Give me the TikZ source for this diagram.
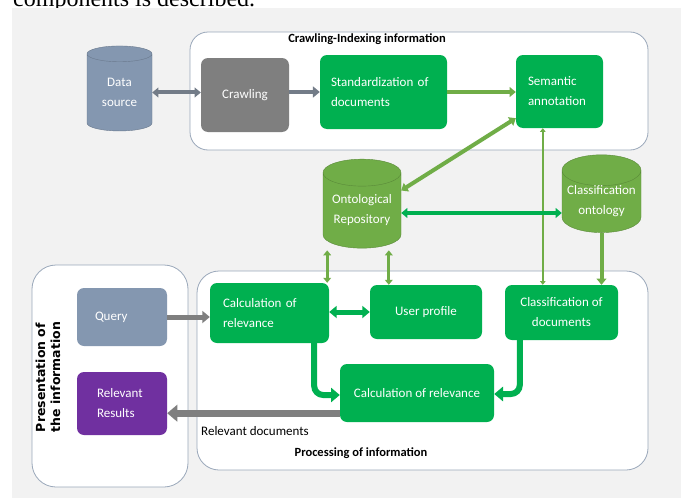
\documentclass[tikz,border=0pt]{standalone}
\usepackage{fontspec}
\setmainfont{Carlito}
\newfontfamily\sidefont{DejaVu Sans}
\newfontfamily\introfont{Liberation Serif}
\usetikzlibrary{arrows.meta,positioning,shapes.geometric}
\definecolor{bggray}{HTML}{F2F2F2}
\definecolor{framegray}{HTML}{9AA8BA}
\definecolor{nodegreen}{HTML}{00B050}
\definecolor{olive}{HTML}{70AD47}
\definecolor{slate}{HTML}{8497B0}
\definecolor{crawlgray}{HTML}{7F7F7F}
\definecolor{linkgray}{HTML}{737C88}
\definecolor{purple}{HTML}{7030A0}
\tikzset{>={Triangle[length=1pt 1.3,width=1pt 2.2]}}
\tikzset{state/.style={rounded corners=7pt,text=white,font=\fontsize{13}{20}\selectfont,inner ysep=2pt}}
\tikzset{green state/.style={state,fill=nodegreen}}
\tikzset{store/.style={cylinder,shape border rotate=90,aspect=0.45,draw=#1!80!black,fill=#1,text=white,align=center,font=\fontsize{13}{20}\selectfont,inner sep=0pt}}
\tikzset{frame/.style={draw=framegray,fill=white,line width=0.8pt,rounded corners=#1}}
\tikzset{frame title/.style={font=\bfseries\fontsize{12.5}{14}\selectfont}}

\begin{document}
\begin{tikzpicture}[x=1pt,y=-1pt]
  \useasboundingbox (0,0) rectangle (681,498);
  \node[anchor=base west,inner sep=0pt,font=\introfont\fontsize{24}{26}\selectfont] (intro) at (13,6) {components is described.};
  \fill[bggray] (12,8) rectangle (681,498);

  % areas
  \node[frame=18pt,minimum width=458pt,minimum height=118pt] (crawlarea) at (419,91) {};
  \node[frame=22pt,minimum width=451pt,minimum height=199pt] (procarea) at (422.5,370.5) {};
  \node[frame=24pt,minimum width=156pt,minimum height=222pt] (presarea) at (110,376) {};
  \node[frame title] (crawltitle) at (367,39) {Crawling-Indexing information};
  \node[frame title] (proctitle) at (361,453) {Processing of information};
  \node[font=\sidefont\bfseries\fontsize{12.5}{15}\selectfont,rotate=90,align=left] (prestitle) at (48,377) {Presentation of\\the information};

  % crawling and indexing
  \node[store=slate,minimum width=65pt,minimum height=85pt] (ds) at (119.5,92.5) {Data\\source};
  \node[state,fill=crawlgray,minimum width=88pt,minimum height=74pt] (crawl) at (245,95) {Crawling};
  \node[green state,text width=105pt,inner xsep=11pt,minimum height=74pt,align=left] (std) at (383.5,92) {Standardization of\\documents};
  \node[green state,text width=63pt,inner xsep=12pt,minimum height=73pt,align=left] (sem) at (559.5,91.5) {Semantic\\annotation};

  % ontologies
  \node[store=olive,minimum width=78pt,minimum height=89pt] (onto) at (362,210.5) {Ontological\\Repository};
  \node[store=olive,minimum width=79pt,minimum height=73pt] (clont) at (601.5,201.5) {Classification\\ontology};

  % presentation
  \node[state,fill=slate,text width=54pt,inner xsep=18pt,minimum height=58pt,align=left] (query) at (122,317) {Query};
  \node[state,fill=purple,text width=50pt,inner xsep=20pt,minimum height=63pt,align=left] (results) at (122,403.5) {Relevant\\Results};

  % processing
  \node[green state,text width=93pt,inner xsep=13pt,minimum height=60pt,align=left] (calc1) at (269.5,313) {Calculation of\\relevance};
  \node[green state,minimum width=112pt,minimum height=54pt] (profile) at (426,312) {User profile};
  \node[green state,minimum width=113pt,minimum height=55pt,align=center] (clsdoc) at (561.5,312.5) {Classification of\\documents};
  \node[green state,minimum width=154pt,minimum height=58pt] (calc2) at (417,393) {Calculation of relevance};
  \node[font=\fontsize{13}{14}\selectfont,anchor=west,inner xsep=0pt] (reldocs) at (201,431) {Relevant documents};

  % connectors
  \draw[<->,linkgray,line width=4pt] (ds.east) -- (ds.east -| crawl.west);
  \draw[->,linkgray,line width=4.5pt] ([yshift=3pt]crawl.east) -- ([yshift=3pt]crawl.east -| std.west);
  \draw[->,olive,line width=4pt] (std.east) -- (std.east -| sem.west);
  \draw[<->,olive,line width=4pt] ([yshift=10pt]sem.south west) -- ([yshift=20pt]onto.east);
  \draw[<->,olive,line width=2pt] ([xshift=27pt]sem.south west) -- ([xshift=27pt]sem.south west |- clsdoc.north);
  \draw[<->,nodegreen,line width=4pt] ([yshift=-2.5pt]onto.east) -- ([yshift=-2.5pt]onto.east -| clont.west);
  \draw[->,olive,line width=4pt] (clont.south) -- (clont.south |- clsdoc.north);
  \draw[<->,olive,line width=3pt] ([xshift=-2pt]calc1.north east) -- ([xshift=-2pt,yshift=-2pt]calc1.north east |- onto.south);
  \draw[<->,olive,line width=3pt] ([xshift=19pt]profile.north west) -- ([xshift=19pt,yshift=-2pt]profile.north west |- onto.south);
  \draw[<->,nodegreen,line width=5pt] (calc1.east |- profile.west) -- (profile.west);
  \draw[->,crawlgray,line width=5pt] (query.east) -- (query.east -| calc1.west);
  \draw[->,nodegreen,line width=6pt,rounded corners=9pt] ([xshift=-15pt]calc1.south east) |- ([yshift=-2pt]calc2.west);
  \draw[->,nodegreen,line width=6pt,rounded corners=9pt] ([xshift=15pt]clsdoc.south west) |- ([yshift=-1pt]calc2.east);
  \draw[->,crawlgray,line width=7pt] ([yshift=9pt]calc2.south west) -- ([yshift=9pt]calc2.south west -| results.east);
\end{tikzpicture}
\end{document}
